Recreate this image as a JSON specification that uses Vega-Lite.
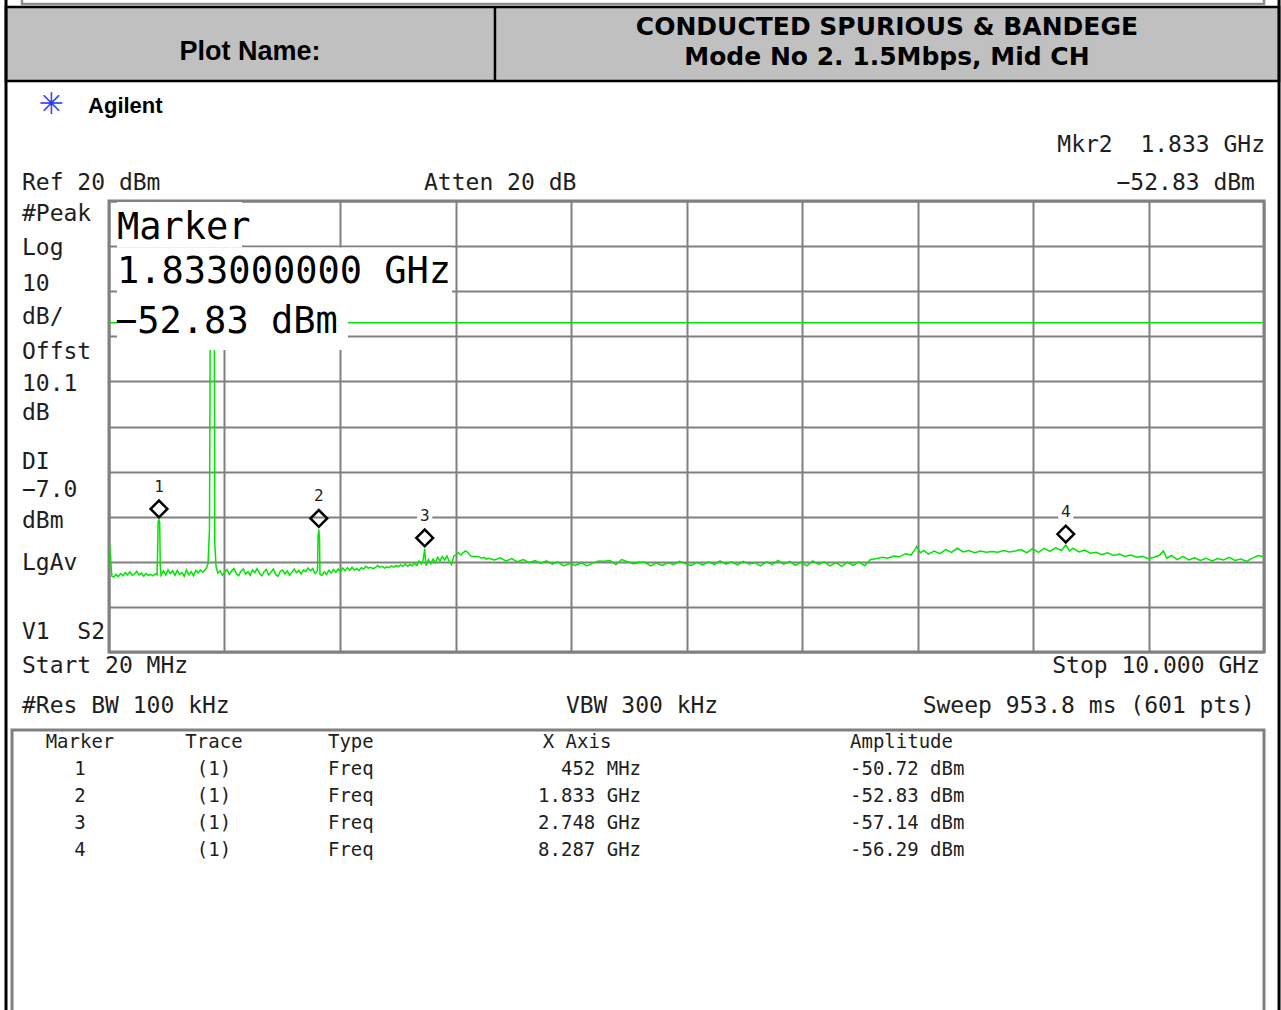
{
"$schema": "https://vega.github.io/schema/vega-lite/v6.json",
"width": 1155, "height": 451,
"autosize": {"type": "none"},
"padding": {"left": 109, "top": 201, "right": 17, "bottom": 358},
"background": "white",
"config": {
 "view": {"stroke": "#808080", "strokeWidth": 3},
 "axis": {"grid": true, "gridColor": "#808080", "gridWidth": 2, "labels": false, "ticks": false, "domain": false},
 "text": {"font": "DejaVu Sans Mono", "fontSize": 23, "color": "#1e1e1e", "baseline": "middle"}
},
"datasets": {
 "one": [{}],
 "trace": [
{"f":0.02,"dBm":-54.5},{"f":0.03,"dBm":-58},{"f":0.045,"dBm":-63.2},{"f":0.06,"dBm":-63.4},{"f":0.08,"dBm":-62.8},{"f":0.1,"dBm":-63.3},{"f":0.12,"dBm":-62.6},{"f":0.14,"dBm":-63.1},{"f":0.16,"dBm":-62.4},{"f":0.18,"dBm":-62.9},{"f":0.2,"dBm":-62.2},{"f":0.22,"dBm":-63.0},{"f":0.24,"dBm":-62.7},{"f":0.26,"dBm":-62.1},{"f":0.28,"dBm":-62.9},{"f":0.3,"dBm":-62.5},{"f":0.32,"dBm":-63.2},{"f":0.34,"dBm":-62.6},{"f":0.36,"dBm":-63.0},{"f":0.38,"dBm":-62.8},{"f":0.4,"dBm":-63.1},{"f":0.42,"dBm":-62.7},{"f":0.435,"dBm":-62.9},{"f":0.44,"dBm":-58},{"f":0.445,"dBm":-51.0},{"f":0.452,"dBm":-50.72},{"f":0.458,"dBm":-51.3},{"f":0.463,"dBm":-61},{"f":0.47,"dBm":-63.0},{"f":0.49,"dBm":-62.0},{"f":0.51,"dBm":-62.9},{"f":0.53,"dBm":-61.8},{"f":0.55,"dBm":-62.6},{"f":0.57,"dBm":-62.0},{"f":0.59,"dBm":-63.0},{"f":0.61,"dBm":-61.9},{"f":0.63,"dBm":-62.8},{"f":0.65,"dBm":-62.4},{"f":0.67,"dBm":-63.2},{"f":0.69,"dBm":-61.8},{"f":0.71,"dBm":-62.9},{"f":0.73,"dBm":-62.2},{"f":0.75,"dBm":-63.1},{"f":0.77,"dBm":-61.9},{"f":0.79,"dBm":-62.5},{"f":0.81,"dBm":-61.8},{"f":0.83,"dBm":-62.3},{"f":0.85,"dBm":-61.8},{"f":0.865,"dBm":-61.2},{"f":0.876,"dBm":-60.3},{"f":0.888,"dBm":-53},{"f":0.893,"dBm":-20},{"f":0.895,"dBm":10},{"f":0.912,"dBm":12},{"f":0.928,"dBm":10},{"f":0.931,"dBm":-20},{"f":0.934,"dBm":-56},{"f":0.945,"dBm":-61},{"f":0.96,"dBm":-62.5},{"f":0.98,"dBm":-62.0},
{"f":1.0,"dBm":-63.0},{"f":1.02,"dBm":-62.2},{"f":1.04,"dBm":-61.7},{"f":1.06,"dBm":-62.8},{"f":1.08,"dBm":-62.0},{"f":1.1,"dBm":-61.5},{"f":1.12,"dBm":-62.6},{"f":1.14,"dBm":-63.1},{"f":1.16,"dBm":-62.1},{"f":1.18,"dBm":-61.6},{"f":1.2,"dBm":-62.7},{"f":1.22,"dBm":-62.2},{"f":1.24,"dBm":-63.0},{"f":1.26,"dBm":-61.8},{"f":1.28,"dBm":-62.4},{"f":1.3,"dBm":-61.5},{"f":1.32,"dBm":-62.6},{"f":1.34,"dBm":-63.1},{"f":1.36,"dBm":-62.2},{"f":1.38,"dBm":-61.7},{"f":1.4,"dBm":-62.9},{"f":1.42,"dBm":-62.3},{"f":1.44,"dBm":-61.6},{"f":1.46,"dBm":-62.8},{"f":1.48,"dBm":-63.2},{"f":1.5,"dBm":-62.1},{"f":1.52,"dBm":-61.8},{"f":1.54,"dBm":-62.7},{"f":1.56,"dBm":-62.0},{"f":1.58,"dBm":-63.0},{"f":1.6,"dBm":-62.3},{"f":1.62,"dBm":-61.6},{"f":1.64,"dBm":-62.4},{"f":1.66,"dBm":-61.9},{"f":1.68,"dBm":-62.7},{"f":1.7,"dBm":-61.8},{"f":1.72,"dBm":-62.2},{"f":1.74,"dBm":-61.4},{"f":1.76,"dBm":-62.0},{"f":1.78,"dBm":-61.5},{"f":1.8,"dBm":-62.6},{"f":1.822,"dBm":-62.0},{"f":1.826,"dBm":-54.5},{"f":1.833,"dBm":-52.83},{"f":1.839,"dBm":-55},{"f":1.843,"dBm":-62.8},{"f":1.86,"dBm":-63.0},{"f":1.88,"dBm":-62.2},{"f":1.9,"dBm":-62.8},{"f":1.92,"dBm":-61.9},{"f":1.94,"dBm":-62.5},{"f":1.96,"dBm":-61.7},{"f":1.98,"dBm":-62.3},{"f":2.0,"dBm":-61.6},{"f":2.02,"dBm":-62.2},{"f":2.04,"dBm":-61.4},{"f":2.06,"dBm":-62.0},{"f":2.08,"dBm":-61.3},{"f":2.1,"dBm":-61.9},{"f":2.12,"dBm":-61.2},{"f":2.14,"dBm":-61.8},{"f":2.16,"dBm":-61.5},{"f":2.18,"dBm":-61.9},{"f":2.2,"dBm":-61.3},{"f":2.22,"dBm":-61.6},{"f":2.24,"dBm":-61.0},{"f":2.26,"dBm":-61.4},{"f":2.28,"dBm":-61.2},{"f":2.3,"dBm":-61.5},{"f":2.32,"dBm":-61.3},{"f":2.34,"dBm":-60.8},{"f":2.36,"dBm":-61.2},{"f":2.38,"dBm":-61.0},{"f":2.4,"dBm":-61.4},{"f":2.42,"dBm":-61.1},{"f":2.44,"dBm":-61.3},{"f":2.46,"dBm":-60.9},{"f":2.48,"dBm":-61.2},{"f":2.5,"dBm":-60.8},{"f":2.52,"dBm":-61.1},{"f":2.54,"dBm":-60.7},{"f":2.56,"dBm":-61.0},{"f":2.58,"dBm":-60.5},{"f":2.6,"dBm":-61.0},{"f":2.62,"dBm":-60.6},{"f":2.64,"dBm":-60.9},{"f":2.66,"dBm":-60.3},{"f":2.68,"dBm":-60.8},{"f":2.7,"dBm":-59.8},{"f":2.72,"dBm":-60.5},{"f":2.735,"dBm":-59.5},{"f":2.742,"dBm":-58.2},{"f":2.748,"dBm":-57.14},{"f":2.754,"dBm":-59.6},{"f":2.76,"dBm":-60.8},{"f":2.78,"dBm":-59.5},{"f":2.8,"dBm":-60.4},{"f":2.82,"dBm":-59.4},{"f":2.84,"dBm":-60.2},{"f":2.86,"dBm":-59.0},{"f":2.88,"dBm":-59.8},{"f":2.9,"dBm":-58.8},{"f":2.92,"dBm":-59.6},{"f":2.94,"dBm":-58.7},{"f":2.96,"dBm":-59.9},{"f":2.98,"dBm":-60.6},{"f":3.0,"dBm":-58.7},{"f":3.02,"dBm":-58.4},{"f":3.04,"dBm":-58.0},{"f":3.06,"dBm":-58.5},{"f":3.08,"dBm":-58.0},{"f":3.1,"dBm":-57.6},{"f":3.12,"dBm":-57.9},{"f":3.14,"dBm":-58.6},{"f":3.16,"dBm":-58.8},{"f":3.18,"dBm":-58.8},{"f":3.2,"dBm":-58.8},{"f":3.22,"dBm":-58.9},{"f":3.24,"dBm":-59.2},{"f":3.26,"dBm":-59.0},{"f":3.28,"dBm":-59.4},{"f":3.3,"dBm":-59.2},
{"f":3.35,"dBm":-59.6},{"f":3.4,"dBm":-59.1},{"f":3.45,"dBm":-59.8},{"f":3.5,"dBm":-59.3},{"f":3.55,"dBm":-60.0},{"f":3.6,"dBm":-59.5},{"f":3.65,"dBm":-60.2},{"f":3.7,"dBm":-59.7},{"f":3.75,"dBm":-60.3},{"f":3.8,"dBm":-59.8},{"f":3.85,"dBm":-60.5},{"f":3.9,"dBm":-60.0},{"f":3.95,"dBm":-60.9},{"f":4.0,"dBm":-60.4},{"f":4.05,"dBm":-60.8},{"f":4.1,"dBm":-60.2},{"f":4.15,"dBm":-60.9},{"f":4.2,"dBm":-60.3},{"f":4.25,"dBm":-59.8},{"f":4.3,"dBm":-59.9},{"f":4.35,"dBm":-59.7},{"f":4.4,"dBm":-60.6},{"f":4.45,"dBm":-59.5},{"f":4.5,"dBm":-60.0},{"f":4.55,"dBm":-60.4},{"f":4.6,"dBm":-60.1},{"f":4.65,"dBm":-60.1},{"f":4.7,"dBm":-60.9},{"f":4.75,"dBm":-60.3},{"f":4.8,"dBm":-60.8},{"f":4.85,"dBm":-60.2},{"f":4.9,"dBm":-60.6},{"f":4.95,"dBm":-59.9},{"f":5.0,"dBm":-60.4},{"f":5.05,"dBm":-60.8},{"f":5.1,"dBm":-60.1},{"f":5.15,"dBm":-60.7},{"f":5.2,"dBm":-60.0},{"f":5.25,"dBm":-60.6},{"f":5.3,"dBm":-59.8},{"f":5.35,"dBm":-60.5},{"f":5.4,"dBm":-60.0},{"f":5.45,"dBm":-60.7},{"f":5.5,"dBm":-59.9},{"f":5.55,"dBm":-60.5},{"f":5.6,"dBm":-60.2},{"f":5.65,"dBm":-60.9},{"f":5.7,"dBm":-60.0},{"f":5.75,"dBm":-60.6},{"f":5.8,"dBm":-59.7},{"f":5.85,"dBm":-60.5},{"f":5.9,"dBm":-59.9},{"f":5.95,"dBm":-60.8},{"f":6.0,"dBm":-60.1},{"f":6.05,"dBm":-60.9},{"f":6.1,"dBm":-59.8},{"f":6.15,"dBm":-60.6},{"f":6.2,"dBm":-60.0},{"f":6.25,"dBm":-60.9},{"f":6.3,"dBm":-60.2},{"f":6.35,"dBm":-61.0},{"f":6.4,"dBm":-60.1},{"f":6.45,"dBm":-60.8},{"f":6.5,"dBm":-60.0},{"f":6.55,"dBm":-60.9},{"f":6.6,"dBm":-59.5},{"f":6.65,"dBm":-59.3},{"f":6.7,"dBm":-59.0},{"f":6.75,"dBm":-59.2},{"f":6.8,"dBm":-58.7},{"f":6.85,"dBm":-58.9},{"f":6.9,"dBm":-58.2},{"f":6.95,"dBm":-58.5},{"f":6.98,"dBm":-57.4},{"f":7.0,"dBm":-56.6},{"f":7.03,"dBm":-58.0},{"f":7.06,"dBm":-57.5},{"f":7.1,"dBm":-58.3},{"f":7.15,"dBm":-57.6},{"f":7.2,"dBm":-58.2},{"f":7.25,"dBm":-57.3},{"f":7.3,"dBm":-57.9},{"f":7.35,"dBm":-57.0},{"f":7.4,"dBm":-57.8},{"f":7.45,"dBm":-57.5},{"f":7.5,"dBm":-58.0},{"f":7.55,"dBm":-57.6},{"f":7.6,"dBm":-57.9},{"f":7.65,"dBm":-57.7},{"f":7.7,"dBm":-57.9},{"f":7.75,"dBm":-57.5},{"f":7.8,"dBm":-57.8},{"f":7.85,"dBm":-57.6},{"f":7.9,"dBm":-57.3},{"f":7.95,"dBm":-58.0},{"f":8.0,"dBm":-57.1},{"f":8.05,"dBm":-57.9},{"f":8.1,"dBm":-57.0},{"f":8.15,"dBm":-57.7},{"f":8.2,"dBm":-56.9},{"f":8.25,"dBm":-57.5},{"f":8.287,"dBm":-56.29},{"f":8.32,"dBm":-57.6},{"f":8.35,"dBm":-57.0},{"f":8.4,"dBm":-57.8},{"f":8.45,"dBm":-57.4},{"f":8.5,"dBm":-58.1},{"f":8.55,"dBm":-57.9},{"f":8.6,"dBm":-58.4},{"f":8.65,"dBm":-58.0},{"f":8.7,"dBm":-58.6},{"f":8.75,"dBm":-58.3},{"f":8.8,"dBm":-58.8},{"f":8.85,"dBm":-58.5},{"f":8.9,"dBm":-59.0},{"f":8.95,"dBm":-58.8},{"f":9.0,"dBm":-59.3},{"f":9.05,"dBm":-59.0},{"f":9.1,"dBm":-58.5},{"f":9.13,"dBm":-57.6},{"f":9.16,"dBm":-59.2},{"f":9.2,"dBm":-58.6},{"f":9.25,"dBm":-59.5},{"f":9.3,"dBm":-58.8},{"f":9.35,"dBm":-59.6},{"f":9.4,"dBm":-59.1},{"f":9.45,"dBm":-59.7},{"f":9.5,"dBm":-59.2},{"f":9.55,"dBm":-59.8},{"f":9.6,"dBm":-59.3},{"f":9.65,"dBm":-59.6},{"f":9.7,"dBm":-59.0},{"f":9.75,"dBm":-59.7},{"f":9.8,"dBm":-59.4},{"f":9.85,"dBm":-59.9},{"f":9.9,"dBm":-59.2},{"f":9.95,"dBm":-58.6},{"f":10.0,"dBm":-58.9}
 ],
 "markers": [
  {"Marker":1,"Trace":"(1)","Type":"Freq","XAxis":"452 MHz","Amplitude":"-50.72 dBm","f":0.452,"dBm":-50.72},
  {"Marker":2,"Trace":"(1)","Type":"Freq","XAxis":"1.833 GHz","Amplitude":"-52.83 dBm","f":1.833,"dBm":-52.83},
  {"Marker":3,"Trace":"(1)","Type":"Freq","XAxis":"2.748 GHz","Amplitude":"-57.14 dBm","f":2.748,"dBm":-57.14},
  {"Marker":4,"Trace":"(1)","Type":"Freq","XAxis":"8.287 GHz","Amplitude":"-56.29 dBm","f":8.287,"dBm":-56.29}
 ]
},
"resolve": {"scale": {"y": "independent"}},
"layer": [
 {"data": {"name": "one"},
  "layer": [
  {"data": {"name": "trace"}, "mark": {"type": "line", "color": "#00e600", "strokeWidth": 1.5, "clip": true},
   "encoding": {
    "x": {"field": "f", "type": "quantitative", "scale": {"domain": [0.02, 10], "nice": false, "zero": false}, "axis": {"values": [0.02,1.018,2.016,3.014,4.012,5.01,6.008,7.006,8.004,9.002,10], "title": null}},
    "y": {"field": "dBm", "type": "quantitative", "scale": {"domain": [-80, 20], "nice": false, "zero": false}, "axis": {"values": [-80,-70,-60,-50,-40,-30,-20,-10,0,10,20], "title": null}}
   }},
  {"mark": {"type": "rule", "color": "#00e600", "strokeWidth": 1.5}, "encoding": {"y": {"datum": -7}}},
  {"mark": {"type": "rect", "fill": "white", "stroke": "#8c8c8c", "strokeWidth": 2.5}, "encoding": {"x": {"datum": -0.732}, "x2": {"datum": 10.0}, "y": {"datum": 70}, "y2": {"datum": 63.68}}},
  {"mark": {"type": "rect", "fill": "#c0c0c0", "stroke": "black", "strokeWidth": 2.5}, "encoding": {"x": {"datum": -0.87}, "x2": {"datum": 10.13}, "y": {"datum": 63.02}, "y2": {"datum": 46.61}}},
  {"mark": {"type": "rule", "color": "black", "strokeWidth": 2.5}, "encoding": {"x": {"datum": 3.355}, "y": {"datum": 63.02}, "y2": {"datum": 46.61}}},
  {"mark": {"type": "rule", "color": "black", "strokeWidth": 3}, "encoding": {"x": {"datum": -0.87}, "y": {"datum": 64.6}, "y2": {"datum": -160}}},
  {"mark": {"type": "rule", "color": "black", "strokeWidth": 3}, "encoding": {"x": {"datum": 10.13}, "y": {"datum": 64.6}, "y2": {"datum": -160}}},
  {"mark": {"type": "text", "text": "Plot Name:", "font": "Liberation Sans", "fontWeight": "bold", "fontSize": 27, "color": "black", "align": "center"}, "encoding": {"x": {"datum": 1.238}, "y": {"datum": 53.04}}},
  {"mark": {"type": "text", "text": "CONDUCTED SPURIOUS & BANDEGE", "font": "DejaVu Sans", "fontWeight": "bold", "fontSize": 25, "color": "black", "align": "center"}, "encoding": {"x": {"datum": 6.742}, "y": {"datum": 58.58}}},
  {"mark": {"type": "text", "text": "Mode No 2. 1.5Mbps, Mid CH", "font": "DejaVu Sans", "fontWeight": "bold", "fontSize": 25, "color": "black", "align": "center"}, "encoding": {"x": {"datum": 6.742}, "y": {"datum": 51.93}}},
  {"mark": {"type": "text", "text": "✳", "font": "DejaVu Sans", "fontSize": 30, "color": "#2a3cf0", "align": "center"}, "encoding": {"x": {"datum": -0.481}, "y": {"datum": 41.29}}},
  {"mark": {"type": "text", "text": "Agilent", "font": "Liberation Sans", "fontWeight": "bold", "fontSize": 22, "color": "black", "align": "left"}, "encoding": {"x": {"datum": -0.161}, "y": {"datum": 41.06}}},
  {"mark": {"type": "text", "text": "Mkr2\u00a0\u00a01.833 GHz", "align": "right"}, "encoding": {"x": {"datum": 10.009}, "y": {"datum": 32.42}}},
  {"mark": {"type": "text", "text": "Ref 20 dBm", "align": "left"}, "encoding": {"x": {"datum": -0.732}, "y": {"datum": 23.99}}},
  {"mark": {"type": "text", "text": "Atten 20 dB", "align": "left"}, "encoding": {"x": {"datum": 2.742}, "y": {"datum": 23.99}}},
  {"mark": {"type": "text", "text": "−52.83 dBm", "align": "right"}, "encoding": {"x": {"datum": 9.922}, "y": {"datum": 23.99}}},
  {"mark": {"type": "text", "text": "#Peak", "align": "left"}, "encoding": {"x": {"datum": -0.732}, "y": {"datum": 17.12}}},
  {"mark": {"type": "text", "text": "Log", "align": "left"}, "encoding": {"x": {"datum": -0.732}, "y": {"datum": 9.58}}},
  {"mark": {"type": "text", "text": "10", "align": "left"}, "encoding": {"x": {"datum": -0.732}, "y": {"datum": 1.6}}},
  {"mark": {"type": "text", "text": "dB/", "align": "left"}, "encoding": {"x": {"datum": -0.732}, "y": {"datum": -5.72}}},
  {"mark": {"type": "text", "text": "Offst", "align": "left"}, "encoding": {"x": {"datum": -0.732}, "y": {"datum": -13.48}}},
  {"mark": {"type": "text", "text": "10.1", "align": "left"}, "encoding": {"x": {"datum": -0.732}, "y": {"datum": -20.58}}},
  {"mark": {"type": "text", "text": "dB", "align": "left"}, "encoding": {"x": {"datum": -0.732}, "y": {"datum": -27.01}}},
  {"mark": {"type": "text", "text": "DI", "align": "left"}, "encoding": {"x": {"datum": -0.732}, "y": {"datum": -37.87}}},
  {"mark": {"type": "text", "text": "−7.0", "align": "left"}, "encoding": {"x": {"datum": -0.732}, "y": {"datum": -44.08}}},
  {"mark": {"type": "text", "text": "dBm", "align": "left"}, "encoding": {"x": {"datum": -0.732}, "y": {"datum": -50.95}}},
  {"mark": {"type": "text", "text": "LgAv", "align": "left"}, "encoding": {"x": {"datum": -0.732}, "y": {"datum": -60.27}}},
  {"mark": {"type": "text", "text": "V1\u00a0\u00a0S2", "align": "left"}, "encoding": {"x": {"datum": -0.732}, "y": {"datum": -75.57}}},
  {"mark": {"type": "text", "text": "Start 20 MHz", "align": "left"}, "encoding": {"x": {"datum": -0.732}, "y": {"datum": -83.1}}},
  {"mark": {"type": "text", "text": "Stop 10.000 GHz", "align": "right"}, "encoding": {"x": {"datum": 9.965}, "y": {"datum": -83.1}}},
  {"mark": {"type": "text", "text": "#Res BW 100 kHz", "align": "left"}, "encoding": {"x": {"datum": -0.732}, "y": {"datum": -91.97}}},
  {"mark": {"type": "text", "text": "VBW 300 kHz", "align": "center"}, "encoding": {"x": {"datum": 4.626}, "y": {"datum": -91.97}}},
  {"mark": {"type": "text", "text": "Sweep 953.8 ms (601 pts)", "align": "right"}, "encoding": {"x": {"datum": 9.922}, "y": {"datum": -91.97}}},
  {"mark": {"type": "rect", "fill": "white"}, "encoding": {"x": {"datum": 0.089}, "x2": {"datum": 1.169}, "y": {"datum": 19.78}, "y2": {"datum": 9.69}}},
  {"mark": {"type": "rect", "fill": "white"}, "encoding": {"x": {"datum": 0.089}, "x2": {"datum": 2.984}, "y": {"datum": 9.69}, "y2": {"datum": -0.4}}},
  {"mark": {"type": "rect", "fill": "white"}, "encoding": {"x": {"datum": 0.089}, "x2": {"datum": 2.085}, "y": {"datum": -0.4}, "y2": {"datum": -13.04}}},
  {"mark": {"type": "text", "text": "Marker", "fontSize": 37, "color": "black", "align": "left"}, "encoding": {"x": {"datum": 0.089}, "y": {"datum": 14.01}}},
  {"mark": {"type": "text", "text": "1.833000000 GHz", "fontSize": 37, "color": "black", "align": "left"}, "encoding": {"x": {"datum": 0.089}, "y": {"datum": 4.26}}},
  {"mark": {"type": "text", "text": "−52.83 dBm", "fontSize": 37, "color": "black", "align": "left"}, "encoding": {"x": {"datum": 0.072}, "y": {"datum": -6.83}}},
  {"data": {"name": "markers"}, "mark": {"type": "point", "shape": "square", "filled": true, "color": "white", "size": 230, "yOffset": -33, "opacity": 1},
   "encoding": {"x": {"field": "f", "type": "quantitative"}, "y": {"field": "dBm", "type": "quantitative"}}},
  {"data": {"name": "markers"}, "mark": {"type": "point", "shape": "diamond", "filled": false, "color": "black", "strokeWidth": 2.5, "size": 280, "yOffset": -11, "opacity": 1},
   "encoding": {"x": {"field": "f", "type": "quantitative"}, "y": {"field": "dBm", "type": "quantitative"}}},
  {"data": {"name": "markers"}, "mark": {"type": "text", "fontSize": 16, "yOffset": -33, "align": "center"},
   "encoding": {"x": {"field": "f", "type": "quantitative"}, "y": {"field": "dBm", "type": "quantitative"}, "text": {"field": "Marker"}}},
  {"mark": {"type": "rect", "fill": null, "fillOpacity": 0, "stroke": "#808080", "strokeWidth": 3}, "encoding": {"x": {"datum": -0.818}, "x2": {"datum": 10.0}, "y": {"datum": -97.29}, "y2": {"datum": -162}}},
  {"mark": {"type": "text", "text": "Marker", "fontSize": 19, "align": "center"}, "encoding": {"x": {"datum": -0.231}, "y": {"datum": -99.96}}},
  {"mark": {"type": "text", "text": "Trace", "fontSize": 19, "align": "center"}, "encoding": {"x": {"datum": 0.927}, "y": {"datum": -99.96}}},
  {"mark": {"type": "text", "text": "Type", "fontSize": 19, "align": "left"}, "encoding": {"x": {"datum": 1.912}, "y": {"datum": -99.96}}},
  {"mark": {"type": "text", "text": "X Axis", "fontSize": 19, "align": "center"}, "encoding": {"x": {"datum": 4.064}, "y": {"datum": -99.96}}},
  {"mark": {"type": "text", "text": "Amplitude", "fontSize": 19, "align": "left"}, "encoding": {"x": {"datum": 6.423}, "y": {"datum": -99.96}}}
 ]},
 {"data": {"name": "markers"},
  "encoding": {"y": {"field": "Marker", "type": "quantitative", "scale": {"domain": [1, 4], "range": [568, 649], "nice": false, "zero": false}, "axis": null}},
  "layer": [
   {"mark": {"type": "text", "fontSize": 19, "align": "center"}, "encoding": {"x": {"datum": -0.231}, "text": {"field": "Marker"}}},
   {"mark": {"type": "text", "fontSize": 19, "align": "center"}, "encoding": {"x": {"datum": 0.927}, "text": {"field": "Trace"}}},
   {"mark": {"type": "text", "fontSize": 19, "align": "left"}, "encoding": {"x": {"datum": 1.912}, "text": {"field": "Type"}}},
   {"mark": {"type": "text", "fontSize": 19, "align": "right"}, "encoding": {"x": {"datum": 4.617}, "text": {"field": "XAxis"}}},
   {"mark": {"type": "text", "fontSize": 19, "align": "left"}, "encoding": {"x": {"datum": 6.423}, "text": {"field": "Amplitude"}}}
  ]}
]
}
